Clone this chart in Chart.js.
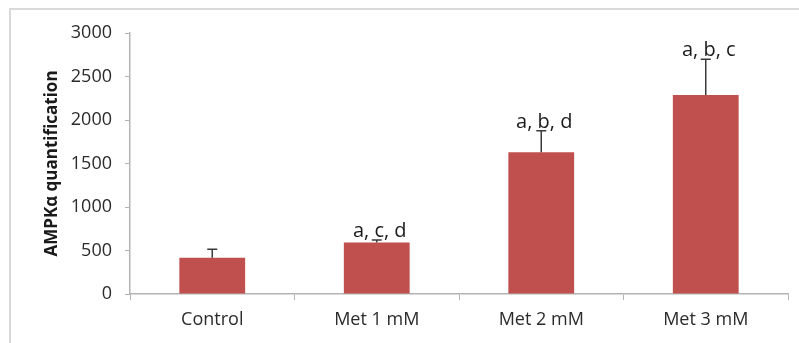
<!DOCTYPE html>
<html>
<head>
<meta charset="utf-8">
<script src="https://cdn.jsdelivr.net/npm/chart.js@4"></script>
<style>
  html, body { margin: 0; padding: 0; background: #fff; }
  #wrap { position: relative; width: 799px; height: 343px; overflow: hidden; }
  #frame {
    position: absolute; left: 9px; top: 8px; width: 820px; height: 400px;
    border-top: 2px solid #d9d9d9; border-left: 2px solid #d9d9d9;
  }
  canvas { position: absolute; left: 0; top: 0; }
</style>
</head>
<body>
<div id="wrap">
  <div id="frame"></div>
  <canvas id="chart" width="799" height="343"></canvas>
</div>
<script>
// values
const groups = ['Control', 'Met 1 mM', 'Met 2 mM', 'Met 3 mM'];
const means = [418, 592, 1628, 2287];
const errors = [97, 28, 248, 410];
const letters = ['', 'a, c, d', 'a, b, d', 'a, b, c'];
const yTicks = [0, 500, 1000, 1500, 2000, 2500, 3000];

const barColor = '#c0504d';
const axisColor = '#b3b3b3';
const textColor = '#2b2b2b';
const fontFamily = '"Open Sans", "Noto Sans", sans-serif';

/**
 * Draw the upper error bars and the significance letters from the data.
 */
const errorBars = {
  id: 'errorBars',
  afterDatasetsDraw(chart) {
    const ctx = chart.ctx;
    const x = chart.scales.x;
    const y = chart.scales.y;
    ctx.save();
    ctx.strokeStyle = '#3a3a3a';
    ctx.lineWidth = 1.5;
    means.forEach((m, i) => {
      const cx = x.getPixelForValue(i);
      const y0 = y.getPixelForValue(m);
      const y1 = y.getPixelForValue(m + errors[i]);
      ctx.beginPath();
      ctx.moveTo(cx, y0);
      ctx.lineTo(cx, y1);
      ctx.moveTo(cx - 5, y1);
      ctx.lineTo(cx + 5, y1);
      ctx.stroke();
    });
    ctx.fillStyle = '#1a1a1a';
    ctx.font = '20px ' + fontFamily;
    ctx.textAlign = 'center';
    ctx.textBaseline = 'alphabetic';
    letters.forEach((t, i) => {
      if (!t) return;
      const cx = x.getPixelForValue(i) + 3;
      const top = y.getPixelForValue(means[i] + errors[i]);
      ctx.fillText(t, cx, top - 3);
    });
    ctx.restore();
  }
};

new Chart(document.getElementById('chart'), {
  type: 'bar',
  data: {
    labels: groups,
    datasets: [{
      data: means,
      backgroundColor: barColor,
      borderWidth: 0,
      categoryPercentage: 1,
      barPercentage: 0.4
    }]
  },
  options: {
    responsive: false,
    animation: false,
    layout: { padding: { top: 33, right: 11, bottom: 0, left: 0 } },
    plugins: {
      legend: { display: false },
      tooltip: { enabled: false }
    },
    scales: {
      x: {
        grid: {
          drawOnChartArea: false,
          drawTicks: true,
          tickLength: 6,
          color: axisColor,
          offset: true
        },
        border: { display: true, color: axisColor, width: 1.5 },
        ticks: {
          color: textColor,
          font: { family: fontFamily, size: 18 },
          padding: 9
        },
        afterFit(scale) { scale.height = 49; }
      },
      y: {
        min: 0,
        max: 3000,
        afterBuildTicks(scale) { scale.ticks = yTicks.map(v => ({ value: v })); },
        grid: {
          drawOnChartArea: false,
          drawTicks: true,
          tickLength: 5,
          color: axisColor
        },
        border: { display: true, color: axisColor, width: 1.5 },
        ticks: {
          color: textColor,
          font: { family: fontFamily, size: 18 },
          padding: 13,
          callback: v => String(v)
        },
        title: {
          display: true,
          text: 'AMPKα quantification',
          color: '#1a1a1a',
          font: { family: fontFamily, size: 17, weight: 'bold' },
          padding: { top: 42, bottom: 0 }
        },
        afterFit(scale) { scale.width = 130; }
      }
    }
  },
  plugins: [errorBars]
});
</script>
</body>
</html>
